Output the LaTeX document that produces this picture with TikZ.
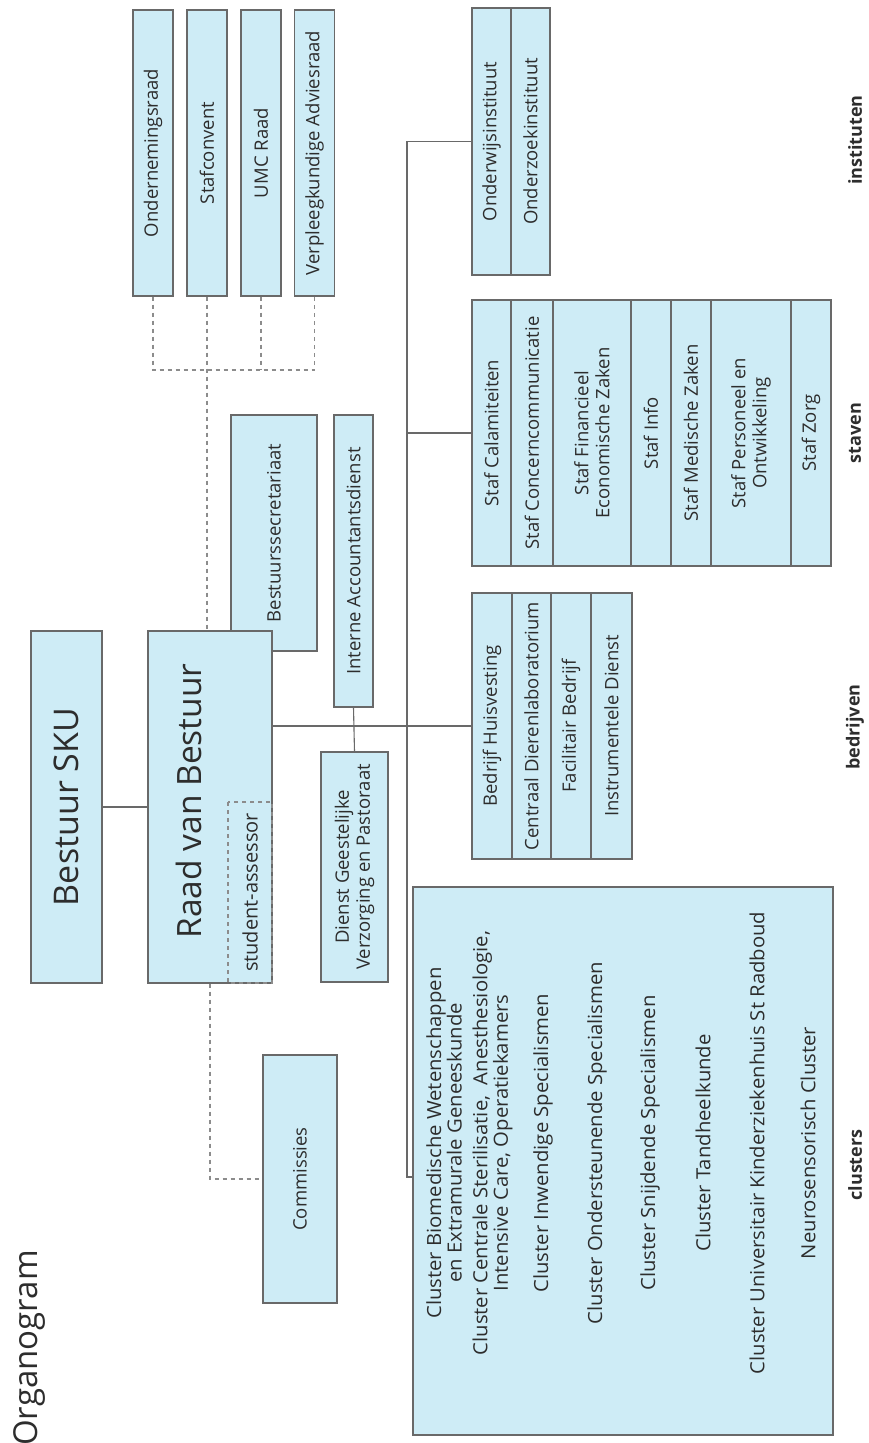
\documentclass[tikz,border=0pt]{standalone}
\usepackage{fontspec}
\setmainfont{Open Sans}
\newfontfamily\clusterfont{Open Sans}[FakeStretch=1.04]
\definecolor{boxfill}{RGB}{206,236,246}
\definecolor{boxline}{RGB}{105,105,105}
\definecolor{ink}{RGB}{45,45,45}
\definecolor{dashgray}{RGB}{140,140,140}
\tikzset{
  unit/.style={draw=boxline,fill=boxfill,rotate=90,inner sep=1pt,align=center,text=ink,
    font=\fontsize{18.5}{21}\selectfont},
  cell/.style={unit,minimum width=266},
  advies/.style={unit,minimum width=286,minimum height=40},
  clustxt/.style={rotate=90,align=center,text=ink,font=\clusterfont\fontsize{19.5}{18.8}\selectfont},
  group/.style={rotate=90,text=ink,font=\bfseries\fontsize{18}{20}\selectfont},
  link/.style={draw=boxline},
  dlink/.style={draw=dashgray,dash pattern=on 4pt off 4pt}
}
\begin{document}
\begin{tikzpicture}[x=1pt,y=-1pt,line width=1.1pt]
\useasboundingbox (0,0) rectangle (868,1443);
% raden bovenaan
\node[advies] (or) at (153,153) {Ondernemingsraad};
\node[advies] (sc) at (207,153) {Stafconvent};
\node[advies] (umc) at (261,153) {UMC Raad};
\node[advies] (vpa) at (314.5,153) {Verpleegkundige Adviesraad};
% bestuur
\node[unit,minimum width=236,minimum height=86] (bsec) at (274,533) {Bestuurssecretariaat};
\node[unit,minimum width=352,minimum height=71,font=\fontsize{34}{38}\selectfont] (bsku) at (66.5,807) {Bestuur SKU};
\node[unit,minimum width=352,minimum height=124] (raad) at (210,807) {};
\node[rotate=90,text=ink,font=\fontsize{33.5}{37}\selectfont] (raadt) at (189,801) {Raad van Bestuur};
\node[unit,fill=none,draw=dashgray,dash pattern=on 4pt off 4pt,minimum width=181,minimum height=44,
  font=\fontsize{20}{22}\selectfont] (stud) at (250,892.5) {student-assessor};
\node[unit,minimum width=292,minimum height=39] (ia) at (353.5,561) {Interne Accountantsdienst};
\node[unit,minimum width=230,minimum height=67] (dgvp) at (354.5,867) {Dienst Geestelijke\\Verzorging en Pastoraat};
\node[unit,minimum width=248,minimum height=74] (comm) at (300,1179) {Commissies};
% instituten
\node[cell,minimum width=267,minimum height=39] (in1) at (491.5,141.5) {Onderwijsinstituut};
\node[cell,minimum width=267,minimum height=39] (in2) at (530.5,141.5) {Onderzoekinstituut};
% staven
\foreach \cx/\h/\txt [count=\i] in {491.5/39/Staf Calamiteiten,532/42/Staf Concerncommunicatie,
    592/78/{Staf Financieel\\Economische Zaken},651/40/Staf Info,691/40/Staf Medische Zaken,
    751/80/{Staf Personeel en\\Ontwikkeling},811/40/Staf Zorg}
  \node[cell,minimum height=\h] (st\i) at (\cx,433) {\txt};
% bedrijven
\foreach \cx/\h/\txt [count=\i] in {492/40/Bedrijf Huisvesting,531.5/39/Centraal Dierenlaboratorium,
    571/40/Facilitair Bedrijf,611.5/41/Instrumentele Dienst}
  \node[cell,minimum height=\h] (bd\i) at (\cx,726) {\txt};
% clusters
\node[unit,minimum width=548,minimum height=420] (cl) at (623,1161) {};
\foreach \cx/\txt [count=\i] in {444/{Cluster Biomedische Wetenschappen\\en Extramurale Geneeskunde},
    492.5/{Cluster Centrale Sterilisatie,\ \ Anesthesiologie,\\Intensive Care, Operatiekamers},
    543/Cluster Inwendige Specialismen,597/Cluster Ondersteunende Specialismen,
    650/Cluster Snijdende Specialismen,703/Cluster Tandheelkunde,
    757/Cluster Universitair Kinderziekenhuis St Radboud,808/Neurosensorisch Cluster}
  \node[clustxt] (ct\i) at (\cx,1143) {\txt};
% kopjes
\node[group] (lbin) at (855,140) {instituten};
\node[group] (lbst) at (855,433) {staven};
\node[group] (lbbd) at (855,727) {bedrijven};
\node[group] (lbcl) at (855,1165) {clusters};
\node[rotate=90,text=ink,font=\fontsize{33}{37}\selectfont] (titel) at (29,1348) {Organogram};
% verbindingen
\draw[dlink] (or.west) |- (vpa.west |- 0,370) -- (vpa.west);
\draw[dlink] (umc.west) -- (umc.west |- 0,370);
\draw[dlink] (sc.west) -- (sc.west |- raad.east);
\draw[dlink] (raad.west) |- (comm.north);
\draw[link] (bsku.south) -- (raad.north);
\draw[link] (raad.south |- bd1.north) -- (bd1.north);
\draw[link] (ia.west) -- (dgvp.east);
\coordinate (tk) at (407,1177);
\draw[link] (in1.north) -| (tk) -- (tk -| cl.north);
\draw[link] (st1.north) -- (st1.north -| tk);
\end{tikzpicture}
\end{document}
